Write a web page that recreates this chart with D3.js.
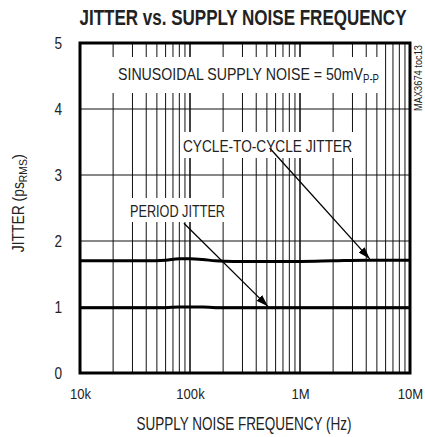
<!DOCTYPE html>
<html>
<head>
<meta charset="utf-8">
<script src="https://d3js.org/d3.v7.min.js"></script>
<style>
  body { margin: 0; background: #fff; }
  text { font-family: "Liberation Sans", Arial, sans-serif; fill: #222; }
</style>
</head>
<body>
<svg id="vis" width="425" height="437"></svg>
<script>
// data
var freqs = [1e4, 2e4, 4e4, 6e4, 8e4, 1e5, 1.3e5, 1.7e5, 2.5e5, 4e5, 7e5, 1e6, 2e6, 4e6, 7e6, 1e7];
var cycleJitter = [1.70, 1.70, 1.70, 1.71, 1.73, 1.73, 1.72, 1.70, 1.69, 1.69, 1.69, 1.69, 1.70, 1.71, 1.71, 1.71];
var periodJitter = [0.99, 0.99, 0.99, 0.99, 1.00, 1.00, 1.00, 0.99, 0.99, 0.99, 0.99, 0.99, 0.99, 0.99, 0.99, 0.99];
var xTicks = [1e4, 1e5, 1e6, 1e7];
var xTickLabels = ["10k", "100k", "1M", "10M"];
var yTicks = [0, 1, 2, 3, 4, 5];

// arrow annotations [from freq, from jitter, to freq, to jitter]
var cycleArrow = [5.3e5, 3.41, 4.3e6, 1.73];
var periodArrow = [8.8e4, 2.27, 5.1e5, 1.01];

var svg = d3.select("#vis");
var mLeft = 80, mRight = 410, mTop = 43, mBottom = 373;

var x = d3.scaleLog().domain([1e4, 1e7]).range([mLeft, mRight]);
var y = d3.scaleLinear().domain([0, 5]).range([mBottom, mTop]);

// squeeze a text to a narrower width (no condensed font available)
function squeeze(sel, ratio) {
  sel.each(function() {
    var w = this.getComputedTextLength();
    d3.select(this).attr("textLength", w * ratio).attr("lengthAdjust", "spacingAndGlyphs");
  });
}

// grid - vertical lines at 2..9 of each decade, plus decades
var vgrid = [];
for (var d = 4; d < 7; d++) {
  for (var m = 1; m < 10; m++) {
    if (d == 4 && m == 1) continue;
    vgrid.push(m * Math.pow(10, d));
  }
}
svg.append("g").selectAll("line")
  .data(vgrid)
  .enter().append("line")
    .attr("x1", function(v) { return x(v); })
    .attr("x2", function(v) { return x(v); })
    .attr("y1", mTop).attr("y2", mBottom)
    .attr("stroke", "#111")
    .attr("stroke-width", function(v) { return xTicks.indexOf(v) >= 0 ? 1.6 : 1; });

svg.append("g").selectAll("line")
  .data([1, 2, 3, 4])
  .enter().append("line")
    .attr("x1", mLeft).attr("x2", mRight)
    .attr("y1", function(v) { return y(v); })
    .attr("y2", function(v) { return y(v); })
    .attr("stroke", "#111")
    .attr("stroke-width", 1);

// text boxes (white, cut the grid)
function box(x0, y0, x1, y1) {
  svg.append("rect")
    .attr("x", x0).attr("y", y0)
    .attr("width", x1 - x0).attr("height", y1 - y0)
    .attr("fill", "#fff");
}
box(112, 57, 384, 93);
box(180, 132, 355, 158);
box(125, 198, 229, 222);

// curves
var line = d3.line()
  .x(function(d) { return x(d[0]); })
  .y(function(d) { return y(d[1]); })
  .curve(d3.curveMonotoneX);

svg.append("path")
  .datum(d3.zip(freqs, cycleJitter))
  .attr("d", line)
  .attr("fill", "none").attr("stroke", "#000").attr("stroke-width", 3);
svg.append("path")
  .datum(d3.zip(freqs, periodJitter))
  .attr("d", line)
  .attr("fill", "none").attr("stroke", "#000").attr("stroke-width", 3);

// arrows
svg.append("defs").append("marker")
  .attr("id", "head")
  .attr("viewBox", "0 0 12 8")
  .attr("refX", 12).attr("refY", 4)
  .attr("markerWidth", 12).attr("markerHeight", 8)
  .attr("markerUnits", "userSpaceOnUse")
  .attr("orient", "auto")
  .append("path").attr("d", "M0,0 L12,4 L0,8 Z").attr("fill", "#000");

[cycleArrow, periodArrow].forEach(function(a) {
  svg.append("line")
    .attr("x1", x(a[0])).attr("y1", y(a[1]))
    .attr("x2", x(a[2])).attr("y2", y(a[3]))
    .attr("stroke", "#000").attr("stroke-width", 1.3)
    .attr("marker-end", "url(#head)");
});

// frame
svg.append("rect")
  .attr("x", mLeft).attr("y", mTop)
  .attr("width", mRight - mLeft).attr("height", mBottom - mTop)
  .attr("fill", "none").attr("stroke", "#000").attr("stroke-width", 3);

// axes
var yAxis = svg.append("g")
  .attr("transform", "translate(" + mLeft + ",0)")
  .call(d3.axisLeft(y).tickValues(yTicks).tickFormat(d3.format("d")).tickSize(0).tickPadding(18));
yAxis.select(".domain").remove();
yAxis.selectAll("text").attr("font-size", 16).attr("font-family", null).attr("fill", "#222").attr("dy", "0.35em");
squeeze(yAxis.selectAll("text"), 0.85);

var xAxis = svg.append("g")
  .attr("transform", "translate(0," + mBottom + ")")
  .call(d3.axisBottom(x).tickValues(xTicks)
    .tickFormat(function(d, i) { return xTickLabels[i]; }).tickSize(0).tickPadding(15));
xAxis.select(".domain").remove();
xAxis.selectAll("text").attr("font-size", 15).attr("font-family", null).attr("fill", "#222");
squeeze(xAxis.selectAll("text"), 0.87);

// title
svg.append("text")
  .attr("x", 243).attr("y", 25)
  .attr("text-anchor", "middle")
  .attr("font-size", 22).attr("font-weight", "bold").attr("fill", "#111")
  .attr("textLength", 327).attr("lengthAdjust", "spacingAndGlyphs")
  .text("JITTER vs. SUPPLY NOISE FREQUENCY");

// x label
svg.append("text")
  .attr("x", 244).attr("y", 430)
  .attr("text-anchor", "middle")
  .attr("font-size", 17.5)
  .attr("textLength", 215).attr("lengthAdjust", "spacingAndGlyphs")
  .text("SUPPLY NOISE FREQUENCY (Hz)");

// y label
var yl = svg.append("text")
  .attr("transform", "translate(24,203) rotate(-90)")
  .attr("text-anchor", "middle")
  .attr("font-size", 16);
yl.append("tspan").attr("textLength", 70).attr("lengthAdjust", "spacingAndGlyphs").text("JITTER (ps");
yl.append("tspan").attr("font-size", 11).attr("dy", 3).attr("textLength", 23).attr("lengthAdjust", "spacingAndGlyphs").text("RMS");
yl.append("tspan").attr("dy", -3).text(")");

// annotations
var s = svg.append("text")
  .attr("x", 118).attr("y", 80)
  .attr("font-size", 17);
s.append("tspan").attr("textLength", 245).attr("lengthAdjust", "spacingAndGlyphs").text("SINUSOIDAL SUPPLY NOISE = 50mV");
s.append("tspan").attr("font-size", 12).attr("dy", 3).attr("textLength", 16).attr("lengthAdjust", "spacingAndGlyphs").text("P-P");

svg.append("text")
  .attr("x", 183).attr("y", 152)
  .attr("font-size", 17)
  .attr("textLength", 169).attr("lengthAdjust", "spacingAndGlyphs")
  .text("CYCLE-TO-CYCLE JITTER");

svg.append("text")
  .attr("x", 130).attr("y", 217)
  .attr("font-size", 17)
  .attr("textLength", 95).attr("lengthAdjust", "spacingAndGlyphs")
  .text("PERIOD JITTER");

svg.append("text")
  .attr("transform", "translate(422,111) rotate(-90)")
  .attr("font-size", 11)
  .attr("textLength", 66).attr("lengthAdjust", "spacingAndGlyphs")
  .text("MAX3674 toc13");
</script>
</body>
</html>
